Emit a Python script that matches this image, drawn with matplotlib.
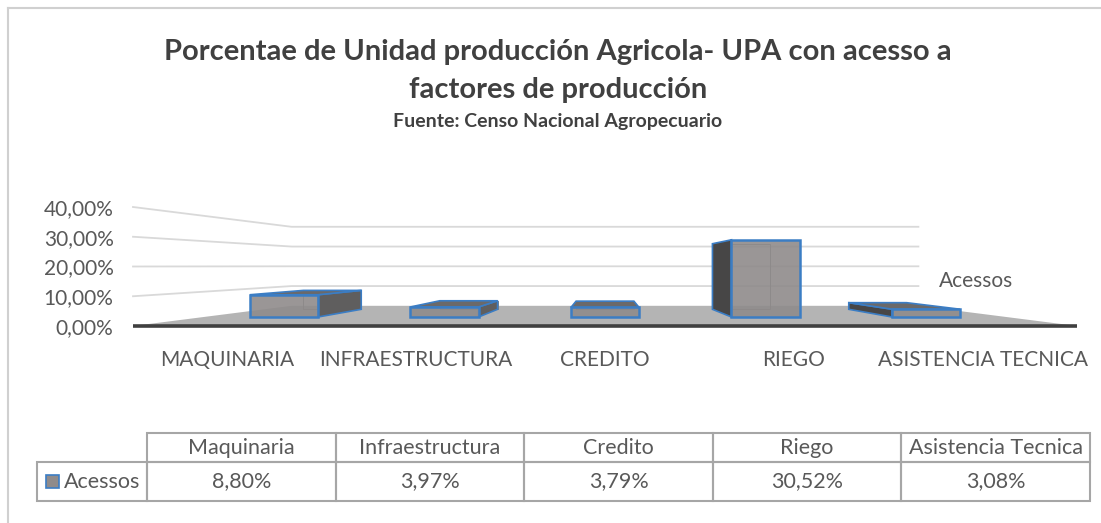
import matplotlib
matplotlib.use('Agg')
import matplotlib.pyplot as plt
from matplotlib.patches import Polygon, Rectangle

plt.rcParams['font.family'] = ['Lato', 'DejaVu Sans']

# datos
categorias = ['MAQUINARIA', 'INFRAESTRUCTURA', 'CREDITO', 'RIEGO', 'ASISTENCIA TECNICA']
columnas_tabla = ['Maquinaria', 'Infraestructura', 'Credito', 'Riego', 'Asistencia Tecnica']
acessos = [8.80, 3.97, 3.79, 30.52, 3.08]
serie = 'Acessos'
yticks = [0, 10, 20, 30, 40]

W, H = 1101, 523
GRIS_TXT = '#595959'
AZUL = '#3b7dc4'
fig = plt.figure(figsize=(W / 100, H / 100), dpi=100)
fig.patch.set_facecolor('white')

# fondo: borde, titulos y tabla en pixeles
bg = fig.add_axes([0, 0, 1, 1], zorder=-1)
bg.set_xlim(0, W)
bg.set_ylim(H, 0)
bg.axis('off')
bg.plot([8, W], [8, 8], color='#d0d0d0', lw=1.5)
bg.plot([8, 8], [8, H], color='#d0d0d0', lw=1.5)

cx = 558
bg.text(cx, 60, 'Porcentae de Unidad producción Agricola- UPA con acesso a', ha='center',
        va='baseline', fontsize=21, fontweight='bold', color='#404040')
bg.text(cx, 98, 'factores de producción', ha='center', va='baseline', fontsize=21,
        fontweight='bold', color='#404040')
bg.text(cx, 127, 'Fuente: Censo Nacional Agropecuario', ha='center', va='baseline',
        fontsize=14, fontweight='bold', color='#404040')

# plano frontal del grafico 3D
n = len(categorias)
ax = fig.add_axes([133 / W, 1 - 326 / H, 944 / W, 119 / H])
ax.set_xlim(0, n)
ax.set_ylim(yticks[0], yticks[-1])
ax.patch.set_alpha(0)
for s in ax.spines.values():
    s.set_visible(False)

VX, VY, K = n / 2, 20.2, 0.336


def proy(x, y, z):
    s = 1 - K * z
    return (VX + (x - VX) * s, VY + (y - VY) * s)


def cara(pts, **kw):
    ax.add_patch(Polygon([proy(*p) for p in pts], closed=True, clip_on=False, **kw))


# piso
cara([(0, 0, 0), (n, 0, 0), (n, 0, 1), (0, 0, 1)], facecolor='#b4b4b4', edgecolor='none', zorder=1)

# lineas de division en pared lateral y fondo
for t in yticks[1:]:
    pts = [proy(0, t, 0), proy(0, t, 1), proy(n, t, 1)]
    ax.plot([p[0] for p in pts], [p[1] for p in pts], color='#d9d9d9', lw=1.3, zorder=0.5,
            clip_on=False)

ax.plot([0, n], [0, 0], color='#404040', lw=2.6, zorder=2, clip_on=False, solid_capstyle='butt')

# barras 3D
ancho, z0, z1 = 0.212, 0.446, 0.827
for i, v in enumerate(acessos):
    x0, x1 = i + 0.5 - ancho, i + 0.5 + ancho
    z = 3 + i * 0.01
    # aristas ocultas
    atras = [proy(x0, 0, z1), proy(x1, 0, z1), proy(x1, v, z1), proy(x0, v, z1), proy(x0, 0, z1)]
    ax.plot([p[0] for p in atras], [p[1] for p in atras], color='#808080', lw=0.7, zorder=z,
            clip_on=False)
    if x1 < VX:
        cara([(x1, 0, z0), (x1, 0, z1), (x1, v, z1), (x1, v, z0)], facecolor='#5f5e5e',
             edgecolor=AZUL, lw=1.2, zorder=z + 0.001)
    elif x0 > VX:
        cara([(x0, 0, z0), (x0, 0, z1), (x0, v, z1), (x0, v, z0)], facecolor='#474646',
             edgecolor=AZUL, lw=1.2, zorder=z + 0.001)
    if v < VY:
        cara([(x0, v, z0), (x1, v, z0), (x1, v, z1), (x0, v, z1)], facecolor='#6b6969',
             edgecolor=AZUL, lw=1.2, zorder=z + 0.002)
    cara([(x0, 0, z0), (x1, 0, z0), (x1, v, z0), (x0, v, z0)], facecolor='#8f8b8b',
         alpha=0.9, edgecolor='none', zorder=z + 0.003)
    cara([(x0, 0, z0), (x1, 0, z0), (x1, v, z0), (x0, v, z0)], facecolor='none',
         edgecolor=AZUL, lw=1.8, zorder=z + 0.004)

ax.set_yticks(yticks)
ax.set_yticklabels([f'{t:.2f}%'.replace('.', ',') for t in yticks])
ax.set_xticks([i + 0.5 for i in range(n)])
ax.set_xticklabels(categorias)
ax.tick_params(axis='y', length=0, pad=14, labelsize=15, labelcolor=GRIS_TXT)
ax.tick_params(axis='x', length=0, pad=17, labelsize=15, labelcolor=GRIS_TXT)

bg.text(976, 281, serie, ha='center', va='center', fontsize=15, color=GRIS_TXT)

# tabla de datos
izq, ancho_col = 147, 188.6
y_top, y_mid, y_bot = 433, 462, 501
borde = dict(facecolor='none', edgecolor='#a6a6a6', lw=1.5)
bg.add_patch(Rectangle((37, y_mid), izq - 37, y_bot - y_mid, **borde))
for i, (col, v) in enumerate(zip(columnas_tabla, acessos)):
    xc = izq + i * ancho_col
    bg.add_patch(Rectangle((xc, y_top), ancho_col, y_mid - y_top, **borde))
    bg.add_patch(Rectangle((xc, y_mid), ancho_col, y_bot - y_mid, **borde))
    bg.text(xc + ancho_col / 2, (y_top + y_mid) / 2, col, ha='center', va='center',
            fontsize=15.5, color=GRIS_TXT)
    bg.text(xc + ancho_col / 2, (y_mid + y_bot) / 2, f'{v:.2f}%'.replace('.', ','),
            ha='center', va='center', fontsize=15.5, color=GRIS_TXT)
bg.add_patch(Rectangle((46, 475), 13, 13, facecolor='#8f8b8b', edgecolor=AZUL, lw=1.2))
bg.text(64, (y_mid + y_bot) / 2, serie, ha='left', va='center', fontsize=15.5, color=GRIS_TXT)

fig.savefig('out.png', dpi=100)
